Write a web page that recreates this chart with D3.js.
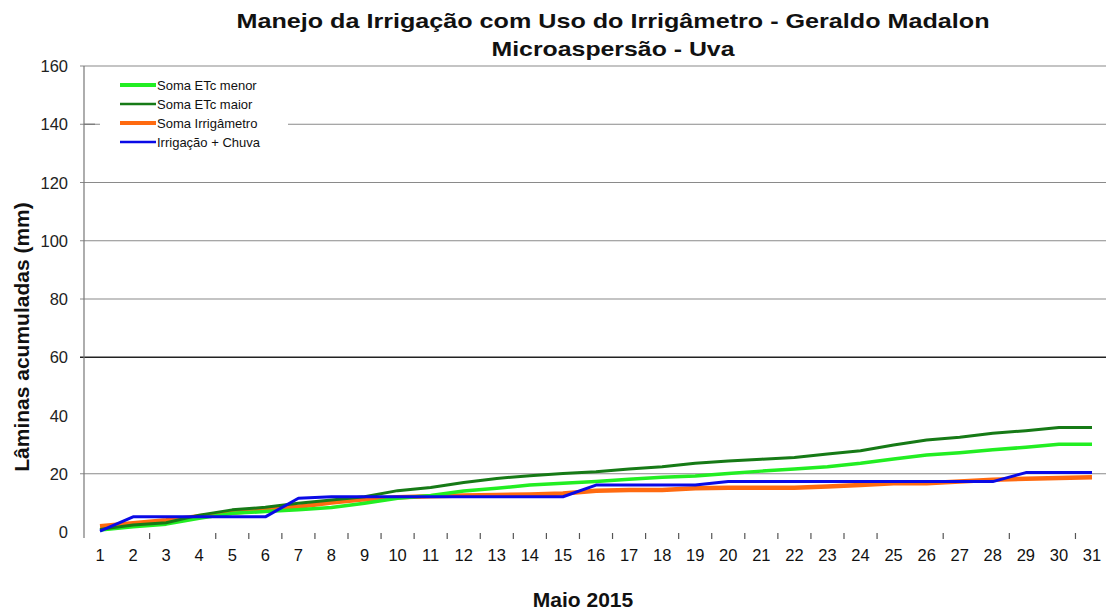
<!DOCTYPE html>
<html><head><meta charset="utf-8">
<script src="https://cdn.jsdelivr.net/npm/d3@7"></script>
<style>
html,body{margin:0;padding:0;background:#fff;}
svg{display:block;font-family:"Liberation Sans",Arial,sans-serif;}
</style></head>
<body>
<svg id="chart" width="1106" height="612"></svg>
<script>
const days = d3.range(1, 32);
const dayLabels = days.map(String);
const yTicks = [0, 20, 40, 60, 80, 100, 120, 140, 160];
const gridValues = [20, 60, 80, 100, 120, 140, 160];
const hiddenBoundaryTicks = [1, 3, 25, 27, 29];

const etcMenor = [0.7, 1.8, 2.7, 4.7, 6.4, 7.0, 7.6, 8.4, 9.9, 11.6, 12.5, 14.1, 15.0, 16.1, 16.7, 17.3, 18.1, 18.8, 19.2, 20.1, 20.9, 21.6, 22.4, 23.6, 25.1, 26.4, 27.2, 28.2, 29.1, 30.1, 30.1];
const etcMaior = [0.9, 2.4, 3.2, 5.8, 7.6, 8.5, 9.9, 11.0, 12.1, 14.2, 15.3, 17.0, 18.4, 19.3, 20.1, 20.7, 21.6, 22.4, 23.6, 24.4, 25.0, 25.6, 26.8, 27.9, 29.9, 31.6, 32.5, 33.9, 34.8, 35.9, 35.9];
const irrigametro = [2.0, 3.0, 4.0, 5.4, 6.6, 7.6, 8.7, 10.1, 11.2, 11.9, 12.3, 12.5, 12.7, 12.9, 13.2, 14.2, 14.4, 14.4, 15.0, 15.2, 15.2, 15.2, 15.6, 16.1, 16.7, 16.7, 17.3, 17.9, 18.3, 18.5, 18.8];
const irrigChuva = [0.3, 5.2, 5.2, 5.2, 5.2, 5.2, 11.6, 12.1, 12.1, 12.1, 12.1, 12.1, 12.1, 12.1, 12.1, 16.1, 16.1, 16.1, 16.1, 17.3, 17.3, 17.3, 17.3, 17.3, 17.3, 17.3, 17.3, 17.3, 20.4, 20.4, 20.4];

const seriesNames = ["Soma ETc menor", "Soma ETc maior", "Soma Irrigâmetro", "Irrigação + Chuva"];
const seriesValues = [etcMenor, etcMaior, irrigametro, irrigChuva];
const seriesColors = ["#22ee22", "#167a16", "#ff6a10", "#0a0ae6"];
const seriesWidths = [3.5, 3, 4.5, 3];
const drawOrder = [2, 0, 1, 3];

const svg = d3.select("#chart");
const x = d3.scalePoint().domain(days).range([100, 1092]);
const y = d3.scaleLinear().domain([0, 160]).range([532, 66]);

// gridlines
svg.append("g").selectAll("line").data(gridValues).join("line")
  .attr("x1", 80).attr("x2", 1106)
  .attr("y1", d => y(d)).attr("y2", d => y(d))
  .attr("stroke", d => d === 60 ? "#222" : "#8a8a8a")
  .attr("stroke-width", d => d === 60 ? 1.3 : 1.2);

// y axis line
svg.append("line").attr("x1", 84).attr("x2", 84).attr("y1", y(160)).attr("y2", 538)
  .attr("stroke", "#777").attr("stroke-width", 1.2);
svg.append("g").selectAll("line").data([140]).join("line")
  .attr("x1", 84).attr("x2", 95).attr("y1", d => y(d)).attr("y2", d => y(d))
  .attr("stroke", "#777").attr("stroke-width", 1.2);

// y tick labels
svg.append("g").selectAll("text").data(yTicks).join("text")
  .attr("x", 68).attr("y", d => y(d) + 6)
  .attr("text-anchor", "end").attr("font-size", 16.5).attr("fill", "#222")
  .text(d => d);

// x boundary ticks
const boundaries = d3.range(1, 31).filter(k => !hiddenBoundaryTicks.includes(k));
svg.append("g").selectAll("line").data(boundaries).join("line")
  .attr("x1", k => (x(k) + x(k + 1)) / 2).attr("x2", k => (x(k) + x(k + 1)) / 2)
  .attr("y1", 533).attr("y2", 539)
  .attr("stroke", "#555").attr("stroke-width", 1.2);

// x labels
svg.append("g").selectAll("text").data(days).join("text")
  .attr("x", d => x(d)).attr("y", 561)
  .attr("text-anchor", "middle").attr("font-size", 16.5).attr("fill", "#111")
  .text((d, i) => dayLabels[i]);

// legend background
svg.append("rect").attr("x", 100).attr("y", 72).attr("width", 188).attr("height", 80).attr("fill", "#fff");

// lines
const line = d3.line().x((d, i) => x(days[i])).y(d => y(d));
svg.append("g").selectAll("path").data(drawOrder).join("path")
  .attr("d", k => line(seriesValues[k]))
  .attr("fill", "none")
  .attr("stroke", k => seriesColors[k])
  .attr("stroke-width", k => seriesWidths[k])
  .attr("stroke-linejoin", "round");

// legend
const legendWidths = [4, 2.5, 4, 2.5];
const lg = svg.append("g").selectAll("g").data(seriesNames).join("g")
  .attr("transform", (d, i) => `translate(120, ${85 + i * 19})`);
lg.append("line").attr("x1", 0).attr("x2", 36).attr("y1", 0).attr("y2", 0)
  .attr("stroke", (d, i) => seriesColors[i]).attr("stroke-width", (d, i) => legendWidths[i]);
lg.append("text").attr("x", 37).attr("y", 4.5).attr("font-size", 13).attr("fill", "#111")
  .text(d => d);

// titles
svg.append("text").attr("x", 613).attr("y", 28).attr("text-anchor", "middle")
  .attr("font-size", 21).attr("font-weight", "bold").attr("fill", "#111")
  .attr("textLength", 753).attr("lengthAdjust", "spacingAndGlyphs")
  .text("Manejo da Irrigação com Uso do Irrigâmetro - Geraldo Madalon");
svg.append("text").attr("x", 613).attr("y", 56).attr("text-anchor", "middle")
  .attr("font-size", 21).attr("font-weight", "bold").attr("fill", "#111")
  .attr("textLength", 243).attr("lengthAdjust", "spacingAndGlyphs")
  .text("Microaspersão - Uva");
svg.append("text").attr("transform", "translate(29, 337) rotate(-90)")
  .attr("text-anchor", "middle").attr("font-size", 21).attr("font-weight", "bold").attr("fill", "#111")
  .text("Lâminas acumuladas (mm)");
svg.append("text").attr("x", 583).attr("y", 607).attr("text-anchor", "middle")
  .attr("font-size", 21).attr("font-weight", "bold").attr("fill", "#111")
  .text("Maio 2015");
</script>
</body></html>
